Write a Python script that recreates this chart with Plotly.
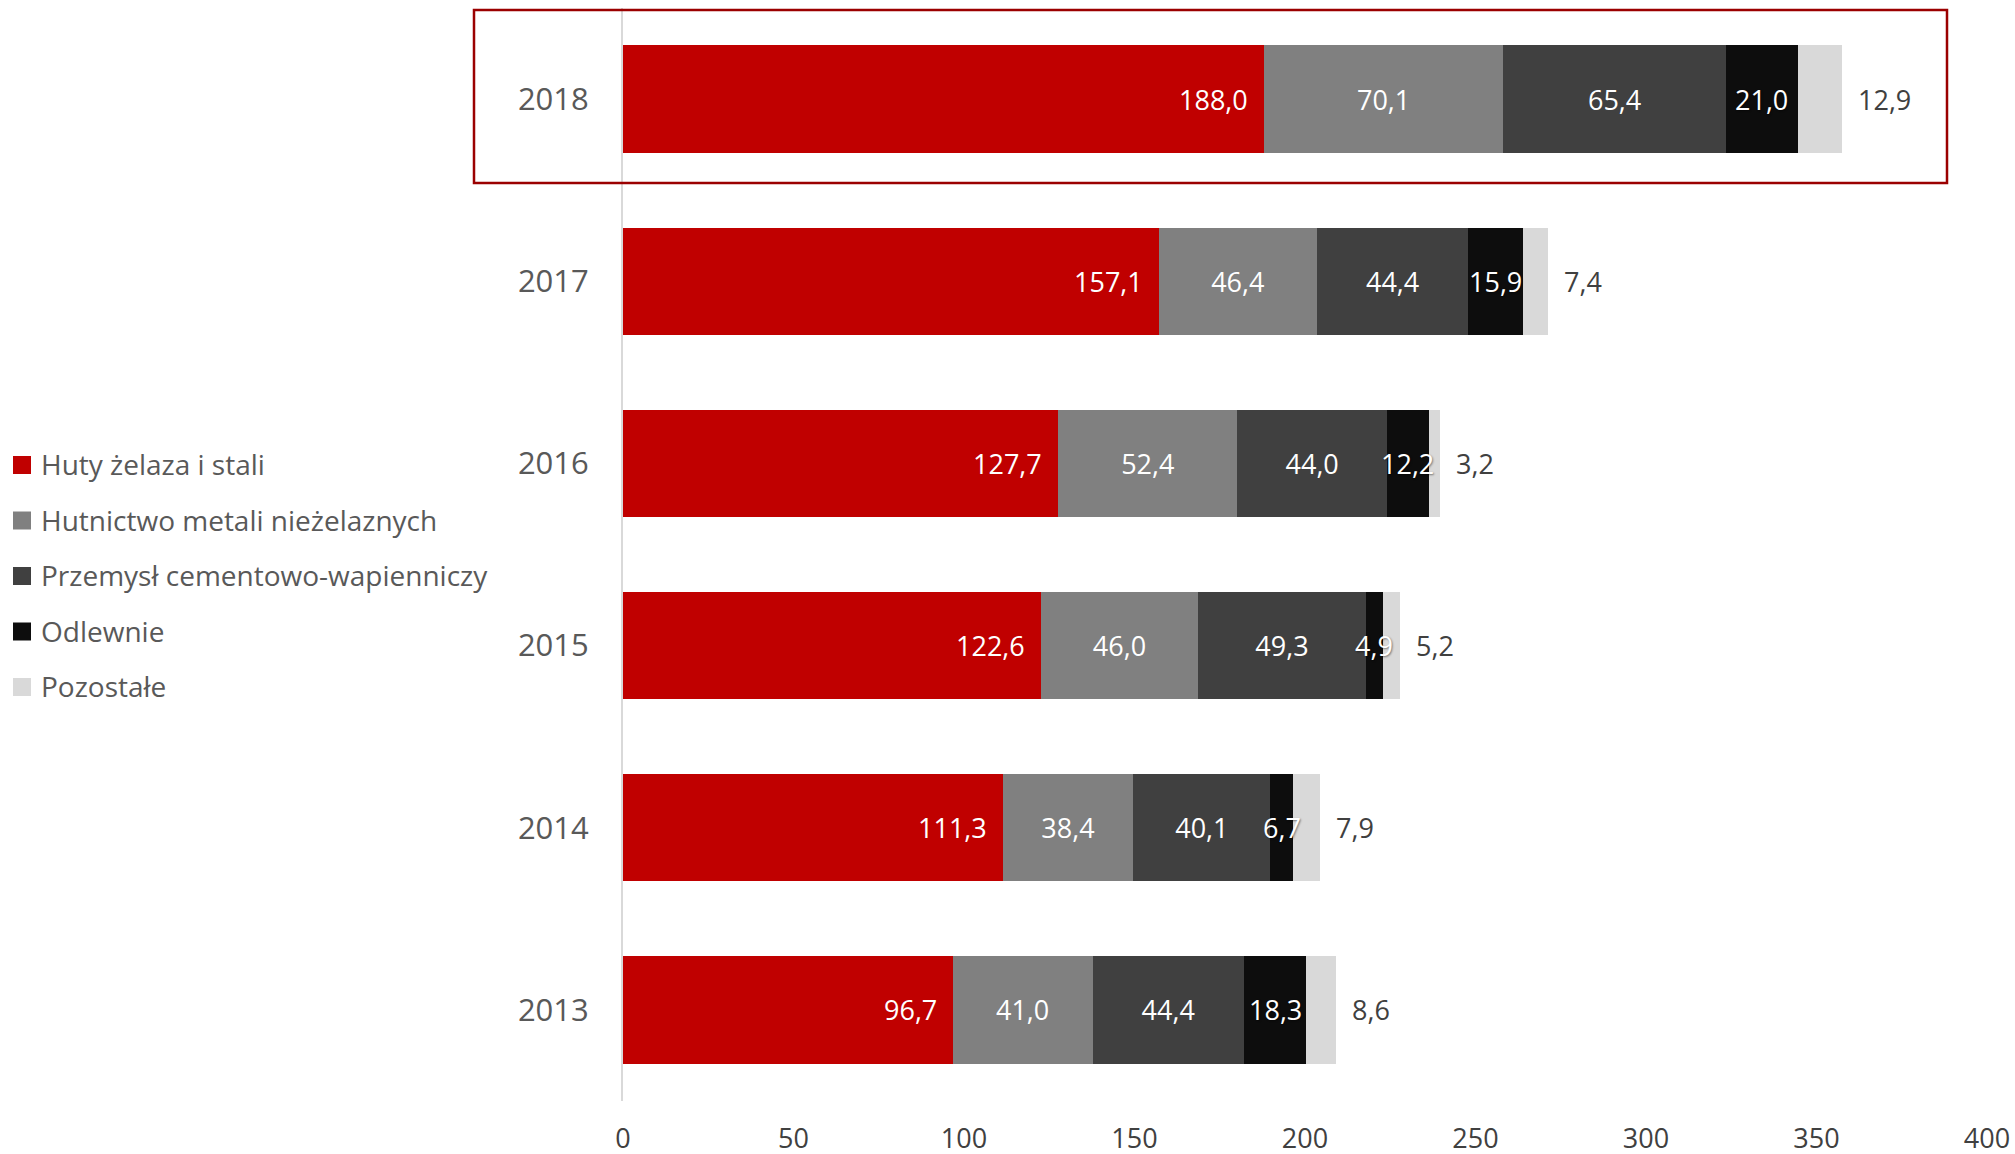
import plotly.graph_objects as go

years = ["2013", "2014", "2015", "2016", "2017", "2018"]
series_names = ["Huty żelaza i stali", "Hutnictwo metali nieżelaznych",
                "Przemysł cementowo-wapienniczy", "Odlewnie", "Pozostałe"]
huty = [96.7, 111.3, 122.6, 127.7, 157.1, 188.0]
hutnictwo = [41.0, 38.4, 46.0, 52.4, 46.4, 70.1]
przemysl = [44.4, 40.1, 49.3, 44.0, 44.4, 65.4]
odlewnie = [18.3, 6.7, 4.9, 12.2, 15.9, 21.0]
pozostale = [8.6, 7.9, 5.2, 3.2, 7.4, 12.9]
x_ticks = [0, 50, 100, 150, 200, 250, 300, 350, 400]

colors = ["#C00000", "#808080", "#404040", "#0D0D0D", "#D9D9D9"]
all_series = [huty, hutnictwo, przemysl, odlewnie, pozostale]
FONT = "Open Sans"
LBL = 27

# figure geometry in page pixels (body margin removed by post_script)
W, H = 2015, 1154
ML, MR, MT, MB = 623, 28, 8, 53
PW, PH = W - ML - MR, H - MT - MB


def px_x(px):
    return (px - ML) / PW


def px_y(py):
    return (MT + PH - py) / PH


def fmt(v):
    return f"{v:.1f}".replace(".", ",")


fig = go.Figure()
for i, (name, vals, col) in enumerate(zip(series_names, all_series, colors)):
    kw = {}
    if i in (1, 2):
        kw = dict(text=[fmt(v) for v in vals], textposition="inside",
                  insidetextanchor="middle", textangle=0,
                  textfont=dict(family=FONT, size=LBL, color="white"),
                  constraintext="none")
    fig.add_trace(go.Bar(
        y=years, x=vals, name=name, orientation="h",
        marker=dict(color=col, line=dict(width=0)),
        showlegend=False, hoverinfo="skip", **kw))

annotations = []
# red series labels: inside end (y given as category index)
for idx, v in enumerate(huty):
    annotations.append(dict(x=v, y=idx, xref="x", yref="y", text=fmt(v),
                            showarrow=False, xanchor="right", xshift=-14,
                            font=dict(family=FONT, size=LBL, color="white")))
# "Odlewnie" labels centred on their segment, drawn above the bars
for idx, v in enumerate(odlewnie):
    base = huty[idx] + hutnictwo[idx] + przemysl[idx]
    annotations.append(dict(x=base + v / 2, y=idx, xref="x", yref="y",
                            text=fmt(v), showarrow=False, xanchor="center",
                            font=dict(family=FONT, size=LBL, color="white",
                                      shadow="1px 1px 2px rgba(0,0,0,0.45)")))
# outside labels for "Pozostałe"
for idx in range(len(years)):
    total = sum(s[idx] for s in all_series)
    annotations.append(dict(x=total, y=idx, xref="x", yref="y",
                            text=fmt(pozostale[idx]), showarrow=False,
                            xanchor="left", xshift=14,
                            font=dict(family=FONT, size=LBL, color="#404040")))

# legend drawn as squares + texts on the left
shapes = []
leg_top, leg_step, sq = 465, 55.5, 18
for i, (name, col) in enumerate(zip(series_names, colors)):
    cy = leg_top + i * leg_step
    shapes.append(dict(type="rect", xref="paper", yref="paper",
                       x0=px_x(13), x1=px_x(13 + sq),
                       y0=px_y(cy + sq / 2), y1=px_y(cy - sq / 2),
                       fillcolor=col, line=dict(width=0)))
    annotations.append(dict(x=px_x(38.5), y=px_y(cy - 1), xref="paper",
                            yref="paper", text=name, showarrow=False,
                            xanchor="left", yanchor="middle",
                            font=dict(family=FONT, size=28, color="#595959")))

# highlight box around 2018
shapes.append(dict(type="rect", xref="paper", yref="paper",
                   x0=px_x(474), x1=px_x(1947), y0=px_y(183), y1=px_y(10),
                   line=dict(color="#9B0000", width=2.5),
                   fillcolor="rgba(0,0,0,0)", layer="above"))

fig.update_layout(
    width=W, height=H,
    barmode="stack", bargap=0.41,
    plot_bgcolor="white", paper_bgcolor="white",
    margin=dict(l=ML, r=MR, t=MT, b=MB, autoexpand=False),
    font=dict(family=FONT, color="#595959"),
    uniformtext=dict(minsize=LBL, mode="show"),
    showlegend=False,
    xaxis=dict(range=[0, 400], tickvals=x_ticks, showgrid=False,
               zeroline=False, showline=False, ticklabelstandoff=19,
               automargin=False,
               tickfont=dict(family=FONT, size=27, color="#404040")),
    yaxis=dict(type="category", categoryorder="array", categoryarray=years,
               range=[-0.5, len(years) - 0.5], automargin=False,
               showgrid=False, showline=True, linecolor="#D9D9D9",
               linewidth=2, ticks="", ticklabelstandoff=26,
               tickfont=dict(family=FONT, size=31, color="#595959")),
    annotations=annotations,
    shapes=shapes,
)

fig.write_html(
    "out.html",
    config={"displayModeBar": False},
    post_script="document.body.style.margin='0px';"
                "document.documentElement.style.overflow='hidden';"
                "document.body.style.overflow='hidden';",
)
